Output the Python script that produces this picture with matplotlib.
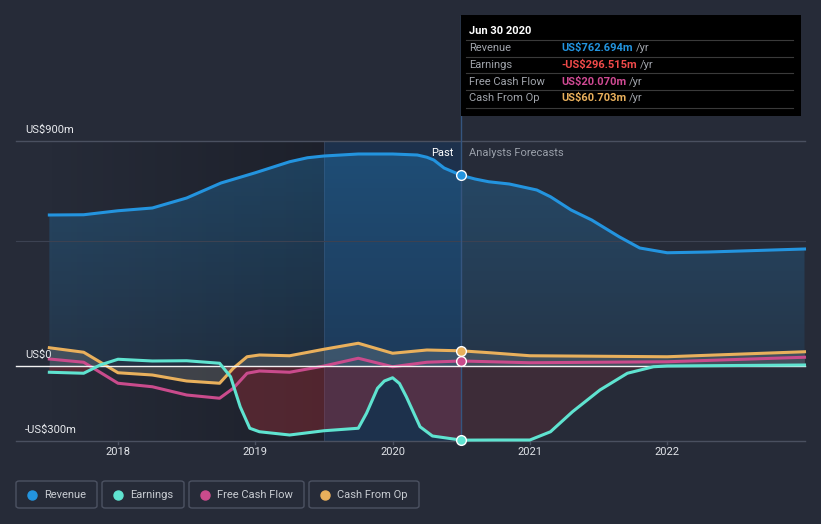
#!/usr/bin/env python3

import numpy as np
import matplotlib
matplotlib.use("Agg")
import matplotlib.pyplot as plt
from matplotlib.patches import Rectangle, FancyBboxPatch, Polygon
from matplotlib.colors import LinearSegmentedColormap

plt.rcParams['font.family'] = ['Roboto', 'DejaVu Sans']

# ---- data (US$ m) ----
rev_x = [2017.5, 2017.75, 2018.0, 2018.25, 2018.5, 2018.75,
         2019.0, 2019.25, 2019.38, 2019.5, 2019.75, 2020.0, 2020.18,
         2020.25, 2020.3, 2020.375, 2020.5,
         2020.6, 2020.7, 2020.85, 2021.05, 2021.15, 2021.3, 2021.45, 2021.65,
         2021.8, 2022.0, 2022.3, 2023.0]
rev_y = [604, 605, 621, 632, 672, 732,
         773, 817, 833, 840, 848, 848, 844,
         835, 824, 792, 762.694,
         748, 737, 728, 704, 677, 624, 584, 517,
         472, 453, 456, 468]

earn_x = [2017.5, 2017.75, 2017.87, 2018.0, 2018.25, 2018.5, 2018.74, 2018.82, 2018.89,
          2018.96, 2019.03, 2019.25, 2019.5, 2019.75, 2019.81, 2019.89, 2019.94, 2020.0,
          2020.05, 2020.1, 2020.2, 2020.29, 2020.5,
          2020.75, 2021.0, 2021.15, 2021.31, 2021.51, 2021.71, 2021.9, 2022.0, 2023.0]
earn_y = [-25, -29, 4, 27, 20, 21, 11, -43, -163,
          -249, -263, -276, -259, -249, -189, -89, -60, -47,
          -70, -123, -243, -280, -296.515,
          -296, -296, -263, -183, -96, -29, -3, 0, 4]

fcf_x = [2017.5, 2017.75, 2018.0, 2018.25, 2018.5, 2018.74, 2018.84, 2018.94, 2019.03,
         2019.25, 2019.5, 2019.75, 2020.0, 2020.25, 2020.5,
         2021.0, 2022.0, 2023.0]
fcf_y = [28, 15, -69, -83, -116, -129, -89, -29, -20,
         -25, 0, 31, -3, 15, 20.070,
         13, 17, 35]

cfo_x = [2017.5, 2017.75, 2018.0, 2018.25, 2018.5, 2018.74, 2018.84, 2018.94, 2019.03,
         2019.25, 2019.5, 2019.75, 2020.0, 2020.25, 2020.5,
         2020.71, 2021.0, 2022.0, 2023.0]
cfo_y = [73, 55, -27, -36, -60, -69, -9, 37, 44,
         41, 67, 91, 51, 64, 60.703,
         53, 41, 37, 57]

year_ticks = [2018, 2019, 2020, 2021, 2022]
grid_vals = [900, 500, -300]
now = 2020.5
past_start = 2019.5

C_REV = '#2394df'
C_EARN = '#5fe3d0'
C_FCF = '#c94b8c'
C_CFO = '#e9b05c'
BG = '#262b38'

W, H = 821, 524


def px(x, y):
    # figure pixel (from top-left) -> figure fraction
    return x / W, 1 - y / H


fig = plt.figure(figsize=(W / 100, H / 100), dpi=100, facecolor=BG)
ax = fig.add_axes([0, 0, 1, 1])
ax.set_facecolor(BG)
# pixel mapping: 2018 at x=118, 137.3 px/yr ; 0 at y=366, 4 m/px
ax.set_xlim(2018 - 118 / 137.3, 2018 + (W - 118) / 137.3)
ax.set_ylim((366 - H) * 4, 366 * 4)
ax.axis('off')

x0, x1 = rev_x[0], rev_x[-1]
xl = 2018 - 102 / 137.3
ymin, ymax = -300, 900

# darker gradient over early past
grad = np.linspace(0, 1, 256).reshape(1, -1)
dark = LinearSegmentedColormap.from_list('dk', [(0.08, 0.09, 0.12, 0.0), (0.08, 0.09, 0.12, 0.5)])
ax.imshow(grad, extent=[x0, past_start, ymin, ymax], cmap=dark, aspect='auto', zorder=1)
# past highlight (blue)
ax.add_patch(Rectangle((past_start, ymin), now - past_start, ymax - ymin,
                       facecolor='#0b3f7d', alpha=0.30, edgecolor='none', zorder=1))
ax.plot([past_start, past_start], [ymin, ymax], color='#34435e', lw=0.6, zorder=1)

# revenue gradient fill
vgrad = np.linspace(0, 1, 256).reshape(-1, 1)
bl = LinearSegmentedColormap.from_list('bl', [(0.14, 0.58, 0.87, 0.10), (0.14, 0.58, 0.87, 0.30)])
im = ax.imshow(vgrad, extent=[x0, x1, 0, 900], cmap=bl, aspect='auto', origin='lower', zorder=2)
poly = Polygon(list(zip(rev_x, rev_y)) + [(x1, 0), (x0, 0)], closed=True,
               facecolor='none', edgecolor='none')
ax.add_patch(poly)
im.set_clip_path(poly)

# earnings negative fill
ex = np.array(earn_x)
ey = np.array(earn_y)
past = ex <= now + 1e-9
fut = ex >= now - 1e-9
ax.fill_between(ex[past], ey[past], 0, where=ey[past] < 0, interpolate=True,
                color='#d8343c', alpha=0.28, lw=0, zorder=3)
ax.fill_between(ex[fut], ey[fut], 0, where=ey[fut] < 0, interpolate=True,
                color='#d8343c', alpha=0.13, lw=0, zorder=3)
# cash from op fill
ax.fill_between(cfo_x, cfo_y, 0, color='#c8c8b8', alpha=0.18, lw=0, zorder=3)

# grid lines
for g in grid_vals:
    ax.plot([xl, x1], [g, g], color='#4a5060' if g != 500 else '#3c4252',
            lw=1 if g != 500 else 0.8, zorder=4 if g != 500 else 2)
for t in year_ticks:
    ax.plot([t, t], [-300, -312], color='#4a5060', lw=1, zorder=4)
    ax.text(t, -345, str(t), color='#e0e3e8', fontsize=8, ha='center', va='center', zorder=6)

# lines
ax.plot(cfo_x, cfo_y, color=C_CFO, lw=2.2, zorder=5, solid_joinstyle='round')
ax.plot(fcf_x, fcf_y, color=C_FCF, lw=2.2, zorder=5, solid_joinstyle='round')
ax.plot([xl, x1], [0, 0], color='#f2f2f2', lw=1, zorder=5)
ax.plot(earn_x, earn_y, color=C_EARN, lw=2.2, zorder=5, solid_joinstyle='round')
ax.plot(rev_x, rev_y, color=C_REV, lw=2.2, zorder=5, solid_joinstyle='round')

# now line + markers
ax.plot([now, now], [ymin, 1400], color='#35557f', lw=1, zorder=4)
for xs, ys, c in [(rev_x, rev_y, C_REV), (earn_x, earn_y, C_EARN),
                  (fcf_x, fcf_y, C_FCF), (cfo_x, cfo_y, C_CFO)]:
    v = ys[xs.index(now)]
    ax.plot([now], [v], 'o', ms=7, color=c, mec='white', mew=1, zorder=7)

# y labels
ax.text(2018 - 93 / 137.3, 945, 'US$900m', color='#e8eaee', fontsize=8, va='center', zorder=6)
ax.text(2018 - 93 / 137.3, 45, 'US$0', color='#e8eaee', fontsize=8, va='center', zorder=6)
ax.text(2018 - 93 / 137.3, -255, '-US$300m', color='#e8eaee', fontsize=8, va='center', zorder=6)

ax.text(now - 0.06, 850, 'Past', color='white', fontsize=8, ha='right', va='center', zorder=6)
ax.text(now + 0.06, 850, 'Analysts Forecasts', color='#9aa0aa', fontsize=8, ha='left', va='center', zorder=6)

# tooltip
fig.add_artist(Rectangle(px(461, 116), 340 / W, 101 / H, transform=fig.transFigure,
                         facecolor='black', edgecolor='none', zorder=10))
fig.text(*px(469, 31), 'Jun 30 2020', color='white', fontsize=8, fontweight='bold',
         va='center', zorder=11)
rows = [('Revenue', 'US$762.694m', C_REV), ('Earnings', '-US$296.515m', '#f04a4a'),
        ('Free Cash Flow', 'US$20.070m', '#d04a94'), ('Cash From Op', 'US$60.703m', C_CFO)]
for i, (lab, val, c) in enumerate(rows):
    yy = 48.3 + i * 16.7
    fig.add_artist(plt.Line2D([466 / W, 793 / W], [1 - (yy - 8.4) / H] * 2,
                              transform=fig.transFigure, color='#3a3a3a', lw=0.8, zorder=11))
    fig.text(*px(469, yy), lab, color='#a0a4ab', fontsize=8, va='center', zorder=11)
    t = fig.text(*px(561, yy), val, color=c, fontsize=8, fontweight='bold', va='center', zorder=11)
    fig.canvas.draw()
    bb = t.get_window_extent()
    fig.text(bb.x1 / W + 3 / W, 1 - yy / H, '/yr', color='#a0a4ab', fontsize=8,
             va='center', zorder=11)
fig.add_artist(plt.Line2D([466 / W, 793 / W], [1 - 107.7 / H] * 2,
                          transform=fig.transFigure, color='#3a3a3a', lw=0.8, zorder=11))

# legend
legend = [('Revenue', C_REV, 16, 97), ('Earnings', C_EARN, 102, 184),
          ('Free Cash Flow', C_FCF, 189, 304), ('Cash From Op', C_CFO, 309, 419)]
for lab, c, lx0, lx1 in legend:
    fig.add_artist(FancyBboxPatch(px(lx0, 508), (lx1 - lx0) / W, 27 / H,
                                  boxstyle='round,pad=0,rounding_size=0.004',
                                  transform=fig.transFigure, facecolor='none',
                                  edgecolor='#4c5262', lw=1, zorder=10))
    fig.add_artist(plt.Line2D([(lx0 + 16) / W], [1 - 494.5 / H], marker='o', ms=6.5,
                              color=c, lw=0, transform=fig.transFigure, zorder=11))
    fig.text(*px(lx0 + 28, 494.5), lab, color='#c8ccd2', fontsize=8, va='center', zorder=11)

fig.savefig('out.png', dpi=100, facecolor=BG)
